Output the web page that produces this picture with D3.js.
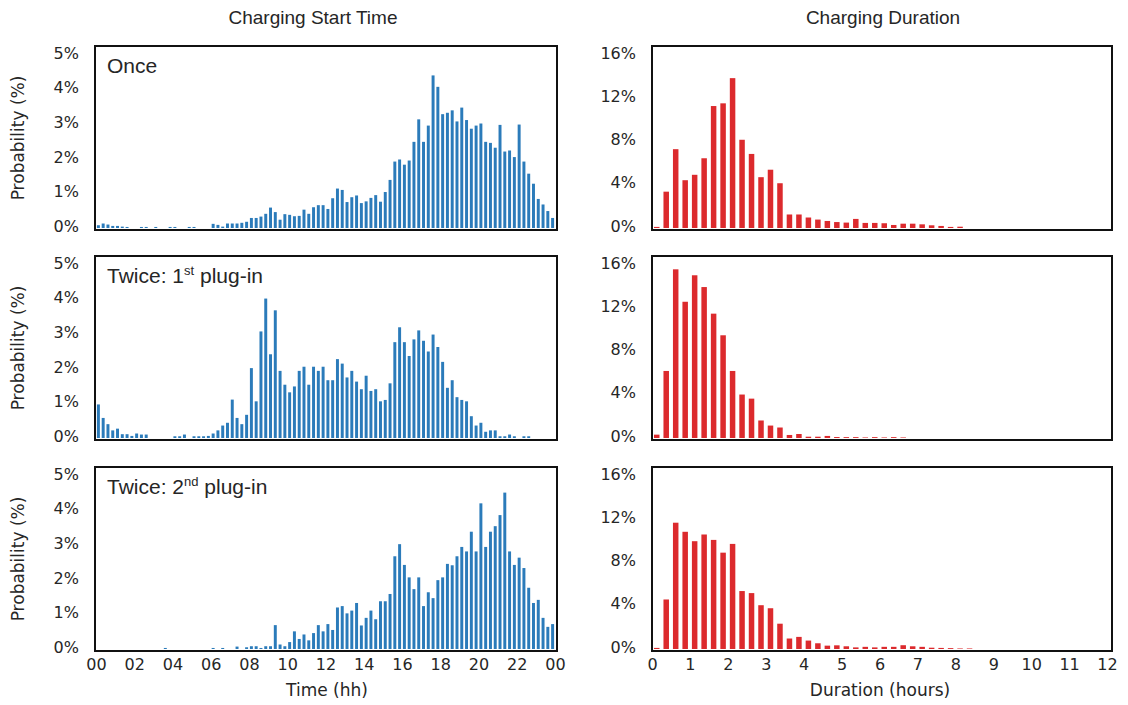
<!DOCTYPE html>
<html>
<head>
<meta charset="utf-8">
<script src="https://cdn.jsdelivr.net/npm/d3@7/dist/d3.min.js"></script>
<style>
  body { margin: 0; background: #fff; }
  svg text { fill: #262626; }
</style>
</head>
<body>
<svg id="chart" width="1128" height="705"></svg>
<script>
// ---- Charging start time: share of sessions per 15-minute bin (%), 96 bins from 00:00 ----
const onceStart = [
  0.08, 0.13, 0.10, 0.06, 0.06, 0.04, 0.03, 0, 0, 0.03, 0.03, 0,
  0.03, 0, 0, 0.03, 0.03, 0, 0, 0.03, 0.03, 0, 0, 0,
  0.12, 0.09, 0.04, 0.13, 0.13, 0.13, 0.15, 0.18, 0.29, 0.29, 0.33, 0.41,
  0.59, 0.46, 0.24, 0.40, 0.38, 0.34, 0.35, 0.53, 0.41, 0.60, 0.66, 0.66,
  0.55, 0.86, 1.14, 1.10, 0.75, 0.89, 0.94, 0.72, 0.77, 0.87, 0.95, 0.76,
  1.04, 1.39, 1.92, 1.98, 1.83, 1.95, 2.49, 3.14, 2.49, 2.96, 4.41, 4.08,
  3.29, 3.33, 3.40, 3.08, 3.48, 3.12, 2.87, 2.96, 3.02, 2.49, 2.46, 2.32,
  2.98, 2.21, 2.24, 2.05, 2.99, 1.92, 1.57, 1.28, 0.84, 0.68, 0.49, 0.29
];
const twiceFirstStart = [
  0.97, 0.58, 0.40, 0.22, 0.27, 0.11, 0.11, 0.06, 0.13, 0.10, 0.10, 0,
  0, 0, 0, 0, 0.05, 0.05, 0.10, 0, 0.05, 0.05, 0.05, 0.06,
  0.13, 0.22, 0.36, 0.44, 1.11, 0.58, 0.40, 0.67, 2.02, 1.06, 3.08, 4.03,
  2.42, 3.69, 1.94, 1.54, 1.32, 1.49, 1.94, 2.06, 1.54, 2.06, 1.94, 2.06,
  1.67, 1.67, 2.28, 2.15, 1.75, 1.94, 1.63, 1.41, 1.80, 1.36, 1.41, 1.06,
  1.10, 1.58, 2.77, 3.20, 2.77, 2.37, 2.85, 3.11, 2.81, 2.50, 2.99, 2.63,
  2.20, 1.45, 1.67, 1.18, 1.10, 1.06, 0.63, 0.36, 0.44, 0.18, 0.22, 0.22,
  0.05, 0.05, 0.10, 0.05, 0, 0.05, 0.05, 0, 0, 0, 0, 0
];
const twiceSecondStart = [
  0, 0, 0, 0, 0, 0, 0, 0, 0, 0, 0, 0,
  0, 0, 0.03, 0, 0, 0, 0, 0, 0, 0, 0, 0,
  0.03, 0, 0.03, 0, 0, 0.07, 0, 0.05, 0.08, 0.08, 0.03, 0.08,
  0.08, 0.69, 0.13, 0.08, 0.20, 0.51, 0.29, 0.42, 0.25, 0.46, 0.69, 0.51,
  0.72, 0.55, 1.20, 1.24, 1.03, 1.11, 1.33, 0.68, 0.90, 1.11, 0.86, 1.38,
  1.38, 1.59, 2.68, 3.03, 2.43, 2.07, 1.73, 2.07, 1.24, 1.64, 1.47, 1.99,
  2.07, 2.46, 2.42, 2.68, 2.95, 2.82, 3.39, 2.82, 4.21, 2.95, 3.39, 3.55,
  3.87, 4.52, 2.82, 2.43, 2.64, 2.34, 1.77, 1.33, 1.42, 0.90, 0.64, 0.72
];

// ---- Charging duration: share of sessions per 15-minute bin (%), 48 bins from 0 h ----
const onceDuration = [
  0.10, 3.36, 7.29, 4.42, 4.92, 6.45, 11.28, 11.53, 13.86, 8.16, 6.85, 4.70,
  5.39, 4.14, 1.25, 1.25, 0.97, 0.78, 0.65, 0.55, 0.50, 0.84, 0.47, 0.47,
  0.44, 0.28, 0.40, 0.40, 0.34, 0.25, 0.19, 0.10, 0.12, 0, 0, 0,
  0, 0, 0, 0, 0, 0, 0, 0, 0, 0, 0, 0
];
const twiceFirstDuration = [
  0.31, 6.20, 15.60, 12.60, 15.05, 13.96, 11.50, 9.50, 6.20, 4.02, 3.64, 1.62,
  1.15, 0.97, 0.28, 0.37, 0.12, 0.12, 0.19, 0.09, 0.08, 0.08, 0.05, 0.08,
  0.05, 0.08, 0.05, 0, 0, 0, 0, 0, 0, 0, 0, 0,
  0, 0, 0, 0, 0, 0, 0, 0, 0, 0, 0, 0
];
const twiceSecondDuration = [
  0.10, 4.58, 11.68, 10.84, 9.97, 10.59, 10.09, 8.91, 9.72, 5.36, 5.17, 4.05,
  3.77, 2.34, 0.97, 1.12, 0.78, 0.53, 0.31, 0.34, 0.25, 0.15, 0.20, 0.15,
  0.20, 0.20, 0.35, 0.25, 0.20, 0.12, 0.10, 0.08, 0.05, 0.05, 0, 0,
  0, 0, 0, 0, 0, 0, 0, 0, 0, 0, 0, 0
];

// ---- Labels and ticks ----
const rowLabels = [
  { main: "Once", sup: "", rest: "" },
  { main: "Twice: 1", sup: "st", rest: " plug-in" },
  { main: "Twice: 2", sup: "nd", rest: " plug-in" }
];
const columnTitles = ["Charging Start Time", "Charging Duration"];
const hourTickLabels = ["00", "02", "04", "06", "08", "10", "12", "14", "16", "18", "20", "22", "00"];
const hourTickValues = [0, 2, 4, 6, 8, 10, 12, 14, 16, 18, 20, 22, 24];
const durationTickValues = [0, 1, 2, 3, 4, 5, 6, 7, 8, 9, 10, 11, 12];
const startPctTicks = [0, 1, 2, 3, 4, 5];
const durationPctTicks = [0, 4, 8, 12, 16];
const xTitles = ["Time (hh)", "Duration (hours)"];
const yTitle = "Probability (%)";

const startSeries = [onceStart, twiceFirstStart, twiceSecondStart];
const durationSeries = [onceDuration, twiceFirstDuration, twiceSecondDuration];

// ---- Layout ----
const svg = d3.select("#chart");
svg.append("rect").attr("width", 1128).attr("height", 705).attr("fill", "#fff");

const rowTops = [46, 256, 467];
const boxH = 184;
const leftBox = { x0: 95, x1: 557 };
const rightBox = { x0: 652, x1: 1112 };
const blue = "#2b7bba";
const red = "#dc2a2d";
const tickFont = "'DejaVu Sans', Verdana, sans-serif";
const titleFont = "'Liberation Sans', Arial, sans-serif";

// x scales
const startBand = d3.scaleBand().domain(d3.range(96)).range([96, 555]);
const hourScale = d3.scaleLinear().domain([0, 24]).range([96, 555]);
const durBand = d3.scaleBand().domain(d3.range(48)).range([652, 1107]);
const durScale = d3.scaleLinear().domain([0, 12]).range([652, 1107]);

function drawPanel(g, box, top, values, band, yMax, ticks, color, widthFrac) {
  const base = top + boxH - 2;
  const y = d3.scaleLinear().domain([0, yMax]).range([base, base - 173]);
  const bw = band.bandwidth();

  g.append("g")
    .selectAll("rect")
    .data(values)
    .join("rect")
    .attr("x", (d, i) => band(i) + bw * (1 - widthFrac) / 2)
    .attr("width", bw * widthFrac)
    .attr("y", d => y(d))
    .attr("height", d => base - y(d))
    .attr("fill", color);

  // frame
  g.append("rect")
    .attr("x", box.x0).attr("y", top)
    .attr("width", box.x1 - box.x0).attr("height", boxH)
    .attr("fill", "none").attr("stroke", "#111").attr("stroke-width", 2);

  // y axis labels
  const ax = g.append("g")
    .attr("transform", `translate(${box.x0 - 16},0)`)
    .call(d3.axisLeft(y).tickValues(ticks).tickFormat(d => d + "%").tickSize(0).tickPadding(0));
  ax.select(".domain").remove();
  ax.selectAll("text")
    .attr("font-family", tickFont).attr("font-size", 16).attr("fill", "#3a3a3a")
    .attr("dy", "0.2em");
  return y;
}

rowTops.forEach((top, r) => {
  const gl = svg.append("g");
  drawPanel(gl, leftBox, top, startSeries[r], startBand, 5, startPctTicks, blue, 0.62);
  const gr = svg.append("g");
  drawPanel(gr, rightBox, top, durationSeries[r], durBand, 16, durationPctTicks, red, 0.58);

  // panel label
  const lab = gl.append("text")
    .attr("x", 107).attr("y", top + 27)
    .attr("font-family", titleFont).attr("font-size", 21).attr("fill", "#111");
  lab.append("tspan").text(rowLabels[r].main);
  if (rowLabels[r].sup) {
    lab.append("tspan").attr("font-size", 13).attr("dy", -8).text(rowLabels[r].sup);
    lab.append("tspan").attr("dy", 8).text(rowLabels[r].rest);
  }

  // y title
  svg.append("text")
    .attr("transform", `translate(24,${top + boxH / 2}) rotate(-90)`)
    .attr("text-anchor", "middle")
    .attr("font-family", tickFont).attr("font-size", 17).attr("fill", "#3a3a3a")
    .text(yTitle);
});

// column titles
[313, 883].forEach((cx, i) => {
  svg.append("text")
    .attr("x", cx).attr("y", 24)
    .attr("text-anchor", "middle")
    .attr("font-family", titleFont).attr("font-size", 19).attr("fill", "#222")
    .text(columnTitles[i]);
});

// x axes under the bottom row
const bottom = rowTops[2] + boxH;
const hx = svg.append("g")
  .attr("transform", `translate(0,${bottom + 8})`)
  .call(d3.axisBottom(hourScale).tickValues(hourTickValues)
    .tickFormat((d, i) => hourTickLabels[i]).tickSize(0).tickPadding(0));
hx.select(".domain").remove();
hx.selectAll("text").attr("font-family", tickFont).attr("font-size", 16).attr("fill", "#3a3a3a");

const dx = svg.append("g")
  .attr("transform", `translate(0,${bottom + 8})`)
  .call(d3.axisBottom(durScale).tickValues(durationTickValues).tickSize(0).tickPadding(0));
dx.select(".domain").remove();
dx.selectAll("text").attr("font-family", tickFont).attr("font-size", 16).attr("fill", "#3a3a3a");

[327, 880].forEach((cx, i) => {
  svg.append("text")
    .attr("x", cx).attr("y", bottom + 45)
    .attr("text-anchor", "middle")
    .attr("font-family", tickFont).attr("font-size", 17).attr("fill", "#3a3a3a")
    .text(xTitles[i]);
});
</script>
</body>
</html>
